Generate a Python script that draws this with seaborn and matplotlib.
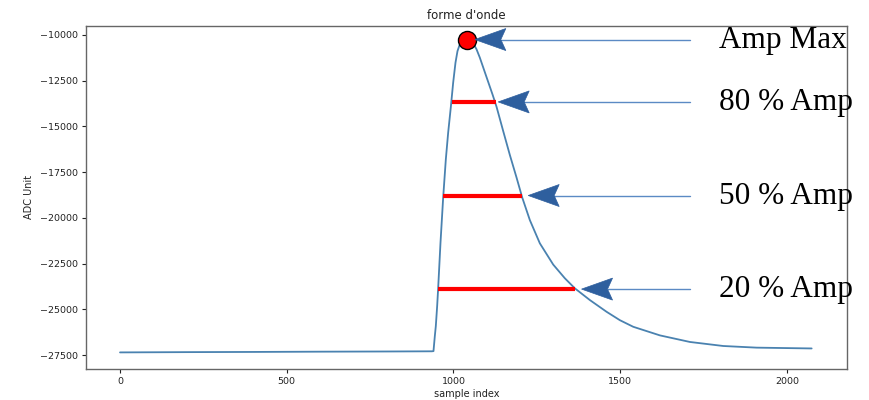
import numpy as np
import pandas as pd
import seaborn as sns
import matplotlib
matplotlib.use("Agg")
import matplotlib.pyplot as plt
from matplotlib.path import Path
from matplotlib.patches import PathPatch
import matplotlib.transforms as mtransforms

# Waveform samples (sample index, ADC value)
sample_idx = [0, 200, 400, 600, 800, 935, 940, 944, 947, 951, 954, 961, 969,
              977, 984, 992, 999, 1006, 1012, 1019, 1029, 1041, 1051, 1059,
              1069, 1079, 1089, 1099, 1117, 1129, 1149, 1169, 1189, 1206, 1229,
              1259, 1299, 1334, 1364, 1409, 1459, 1499, 1539, 1619, 1709, 1809,
              1909, 2074]
adc_value = [-27350, -27335, -27325, -27310, -27300, -27290, -27280, -26460,
             -25910, -24820, -23850, -21360, -18900, -16800, -15340, -13940,
             -12610, -11510, -10880, -10510, -10330, -10250, -10320, -10450,
             -10780, -11240, -11770, -12300, -13250, -13920, -15250, -16560,
             -17790, -18880, -20120, -21390, -22550, -23300, -23850, -24490,
             -25130, -25590, -25950, -26420, -26780, -27000, -27090, -27134]

# Pulse characteristics
baseline = -27300
peak_idx = 1041
peak_val = -10250
level_pct = [0.8, 0.5, 0.2]
level_start = [996, 969, 954]
level_end = [1126, 1206, 1364]

# Annotations: label and where each arrow points (sample index)
labels = ["Amp Max", "80 % Amp", "50 % Amp", "20 % Amp"]
arrow_tip_x = [1064, 1134, 1224, 1384]

amp = peak_val - baseline
level_val = [baseline + p * amp for p in level_pct]

sns.set_style("ticks")
plt.rcParams["font.family"] = ["DejaVu Sans"]

fig = plt.figure(figsize=(8.7, 4.0), dpi=100)
ax = fig.add_axes([86 / 870, 31.5 / 400, 761 / 870, 342.5 / 400])

df = pd.DataFrame({"sample index": sample_idx, "ADC Unit": adc_value})
sns.lineplot(data=df, x="sample index", y="ADC Unit", ax=ax,
             color="#4a82b0", linewidth=1.3, zorder=2)

# Amplitude level bars
for v, x0, x1 in zip(level_val, level_start, level_end):
    ax.plot([x0, x1], [v, v], color="#ff0000", linewidth=3.0,
            solid_capstyle="butt", zorder=3)

# Peak marker
ax.plot([peak_idx], [peak_val], "o", markersize=13, markerfacecolor="#ff0000",
        markeredgecolor="black", markeredgewidth=1.0, zorder=4)

ax.set_xlim(-102, 2180)
ax.set_ylim(-28230, -9510)
ax.set_xticks([0, 500, 1000, 1500, 2000])
ax.set_yticks(np.arange(-27500, -9999, 2500))
ax.set_title("forme d'onde", fontsize=8.5, color="#222222", pad=5)
ax.set_xlabel("sample index", fontsize=7, color="#222222", labelpad=2)
ax.set_ylabel("ADC Unit", fontsize=7, color="#222222", labelpad=4)
ax.tick_params(axis="both", labelsize=6.8, colors="#222222", length=3,
               width=0.8, pad=3)
for sp in ax.spines.values():
    sp.set_visible(True)
    sp.set_color("#666666")
    sp.set_linewidth(1.0)

# Callout arrows with stealth heads and serif labels
tail_ax = 0.7937
text_ax = 0.832
blend = mtransforms.blended_transform_factory(ax.transAxes, ax.transData)
head_verts = [(0, 0), (31, 11), (26, 0), (31, -11), (0, 0)]
head_codes = [Path.MOVETO, Path.LINETO, Path.LINETO, Path.LINETO, Path.CLOSEPOLY]
arrow_y = [peak_val] + level_val

for lab, tx, ty in zip(labels, arrow_tip_x, arrow_y):
    tip_disp = ax.transData.transform((tx, ty))
    tail_disp = blend.transform((tail_ax, ty))
    inv = fig.transFigure.inverted()
    p0 = inv.transform((tip_disp[0] + 26, tip_disp[1]))
    p1 = inv.transform(tail_disp)
    fig.add_artist(plt.Line2D([p0[0], p1[0]], [p0[1], p1[1]],
                              transform=fig.transFigure, color="#5b8ac4",
                              linewidth=1.0, zorder=5))
    head_path = Path([(x / 100, y / 100) for x, y in head_verts], head_codes)
    trans = fig.dpi_scale_trans + mtransforms.ScaledTranslation(
        tx, ty, ax.transData)
    fig.add_artist(PathPatch(head_path, transform=trans, facecolor="#2e5f9e",
                             edgecolor="#2e5f9e", linewidth=0.5, zorder=6))
    txt_trans = blend + mtransforms.ScaledTranslation(0, -8.3 / 100,
                                                      fig.dpi_scale_trans)
    ax.text(text_ax, ty, lab, transform=txt_trans, fontsize=22.5,
            family=["Liberation Serif", "DejaVu Serif"], color="black",
            va="baseline", ha="left", clip_on=False, zorder=7)

fig.savefig("out.png", dpi=100)
